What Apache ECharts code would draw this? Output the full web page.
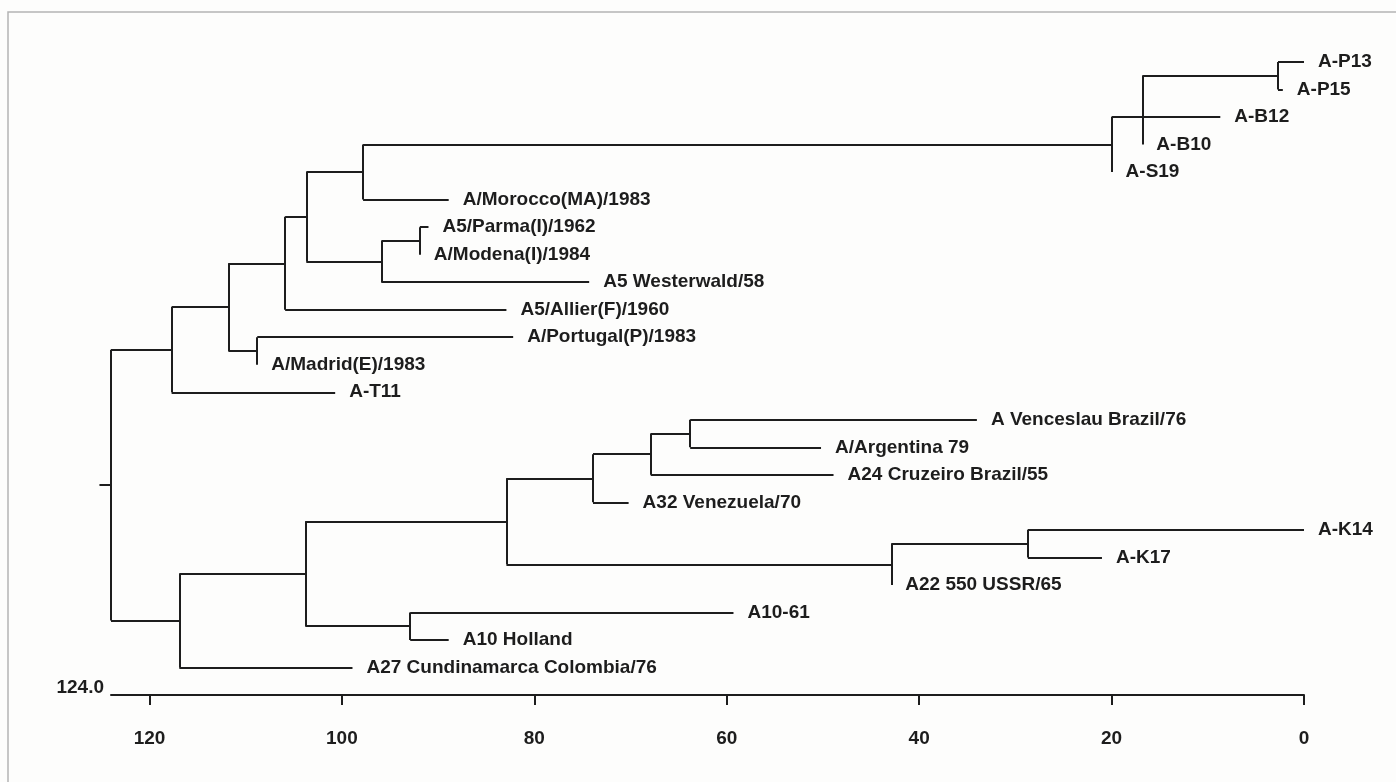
<!DOCTYPE html>
<html>
<head>
<meta charset="utf-8">
<title>FMDV type A dendrogram</title>
<script src="https://cdn.jsdelivr.net/npm/echarts@6/dist/echarts.min.js"></script>
<style>
html, body { margin: 0; padding: 0; background: #fdfdfc; }
#chart { width: 1396px; height: 782px; }
</style>
</head>
<body>
<div id="chart"></div>
<script>
// leaves, top to bottom
const leafNames = [
  'A-P13', 'A-P15', 'A-B12', 'A-B10', 'A-S19',
  'A/Morocco(MA)/1983', 'A5/Parma(I)/1962', 'A/Modena(I)/1984', 'A5 Westerwald/58',
  'A5/Allier(F)/1960', 'A/Portugal(P)/1983', 'A/Madrid(E)/1983', 'A-T11',
  'A Venceslau Brazil/76', 'A/Argentina 79', 'A24 Cruzeiro Brazil/55', 'A32 Venezuela/70',
  'A-K14', 'A-K17', 'A22 550 USSR/65', 'A10-61', 'A10 Holland',
  'A27 Cundinamarca Colombia/76'
]
// distance where each leaf branch ends
const leafDist = [
  0, 2.2, 8.7, 16.8, 20.0,
  88.9, 91.0, 91.9, 74.3,
  82.9, 82.2, 108.8, 100.7,
  34.0, 50.2, 48.9, 70.2,
  0, 21.0, 42.9, 59.3, 88.9,
  98.9
]
// internal nodes: height and children ('L3' = leaf 3, 'N2' = node 2), root last
const nodeDist = [
  2.7, 16.8, 20.0, 91.9, 95.9, 97.8, 103.7, 105.9, 108.8, 111.8, 117.7,
  63.8, 67.9, 73.9, 28.7, 42.9, 82.9, 92.9, 103.8, 116.9,
  124.0
]
const nodeChildren = [
  ['L0', 'L1'], ['N0', 'L2', 'L3'], ['N1', 'L4'], ['L6', 'L7'], ['N3', 'L8'],
  ['N2', 'L5'], ['N5', 'N4'], ['N6', 'L9'], ['L10', 'L11'], ['N7', 'N8'], ['N9', 'L12'],
  ['L13', 'L14'], ['N11', 'L15'], ['N12', 'L16'], ['L17', 'L18'], ['N14', 'L19'],
  ['N13', 'N15'], ['L20', 'L21'], ['N16', 'N17'], ['N18', 'L22'],
  ['N10', 'N19']
]
const rootStem = 125.2
const axisTicks = [0, 20, 40, 60, 80, 100, 120]

const ink = '#1d1d1d'
const font = '"Liberation Sans", Arial, sans-serif'

function distOf(ref) {
  const i = +ref.slice(1)
  return ref[0] === 'L' ? leafDist[i] : nodeDist[i]
}
function rowOf(ref) {
  const i = +ref.slice(1)
  if (ref[0] === 'L') return i
  const kids = nodeChildren[i].map(rowOf)
  // odd fan-out hangs on the middle child
  if (kids.length % 2 === 1) return kids[(kids.length - 1) / 2]
  return (kids[0] + kids[kids.length - 1]) / 2
}

// elbow segments for every node
const segments = []
nodeChildren.forEach((kids, j) => {
  const x = nodeDist[j]
  const rows = kids.map(rowOf)
  segments.push({ coords: [[x, Math.min(...rows)], [x, Math.max(...rows)]] })
  kids.forEach((k, n) => {
    if (distOf(k) !== x) segments.push({ coords: [[x, rows[n]], [distOf(k), rows[n]]] })
  })
})
const rootRef = 'N' + (nodeDist.length - 1)
segments.push({ coords: [[rootStem, rowOf(rootRef)], [nodeDist[nodeDist.length - 1], rowOf(rootRef)]] })

const chart = echarts.init(document.getElementById('chart'))
chart.setOption({
  backgroundColor: '#fdfdfc',
  animation: false,
  textStyle: { fontFamily: font },
  grid: { left: 111, right: 92, top: 62, bottom: 87 },
  xAxis: {
    type: 'value',
    position: 'bottom',
    inverse: true,
    min: 0,
    max: 124,
    name: '124.0',
    nameLocation: 'end',
    nameGap: 7,
    nameTextStyle: { color: ink, fontSize: 19, fontWeight: 'bold', fontFamily: font, verticalAlign: 'bottom', padding: [0, 0, -2, 0] },
    axisLine: { onZero: false, lineStyle: { color: ink, width: 2 } },
    axisTick: { length: 10, lineStyle: { color: ink, width: 2 }, customValues: axisTicks },
    axisLabel: { customValues: axisTicks, margin: 34, color: ink, fontSize: 19, fontWeight: 'bold', fontFamily: font },
    splitLine: { show: false }
  },
  yAxis: { type: 'value', inverse: true, min: 0, max: 23, show: false },
  graphic: [
    { type: 'polyline', silent: true, shape: { points: [[8, 782], [8, 12], [1396, 12]] }, style: { stroke: '#b4b4b4', lineWidth: 1.5, fill: null } }
  ],
  series: [
    {
      type: 'lines',
      coordinateSystem: 'cartesian2d',
      clip: false,
      silent: true,
      lineStyle: { color: ink, width: 2, opacity: 1 },
      data: segments
    },
    {
      type: 'scatter',
      symbolSize: 0,
      silent: true,
      itemStyle: { opacity: 1 },
      data: leafNames.map((n, i) => ({ name: n, value: [leafDist[i], i] })),
      label: {
        show: true,
        position: 'right',
        distance: 14,
        formatter: '{b}',
        color: ink,
        fontSize: 19,
        fontWeight: 'bold',
        fontFamily: font
      }
    }
  ]
})
window.addEventListener('resize', () => chart.resize())
</script>
</body>
</html>
